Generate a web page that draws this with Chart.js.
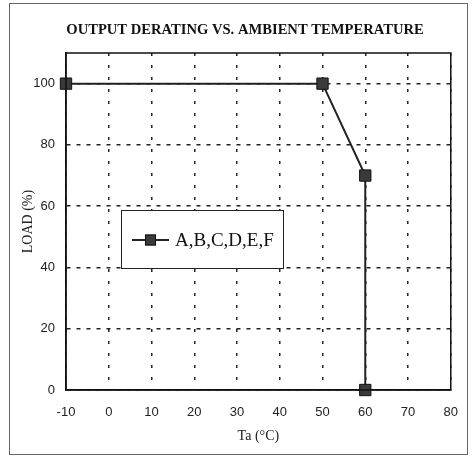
<!DOCTYPE html>
<html>
<head>
<meta charset="utf-8">
<script src="https://cdn.jsdelivr.net/npm/chart.js@4/dist/chart.umd.min.js"></script>
<style>
  html, body { margin: 0; padding: 0; background: #fff; }
  canvas { display: block; }
</style>
</head>
<body>
<canvas id="c" width="473" height="457"></canvas>
<script>
// ---- data ----
const chartTitle = "OUTPUT DERATING VS. AMBIENT TEMPERATURE";
const seriesName = "A,B,C,D,E,F";
const xLabel = "Ta (°C)";
const yLabel = "LOAD (%)";
const temperatures = [-10, 50, 60, 60];
const loads = [100, 100, 70, 0];
const xMin = -10, xMax = 80, xStep = 10;
const yMin = 0, yMax = 110, yStep = 20, yTickMax = 100;

const points = temperatures.map((t, i) => ({ x: t, y: loads[i] }));

const framePlugin = {
  id: 'frame',
  beforeDraw(chart) {
    const ctx = chart.ctx;
    ctx.save();
    ctx.fillStyle = '#fff';
    ctx.fillRect(0, 0, chart.width, chart.height);
    ctx.strokeStyle = '#666';
    ctx.lineWidth = 1;
    ctx.strokeRect(9.5, 3.5, 458, 451);
    // title
    ctx.fillStyle = '#111';
    ctx.font = 'bold 14.6px "Liberation Serif", "Times New Roman", serif';
    ctx.textAlign = 'center';
    ctx.textBaseline = 'middle';
    ctx.fillText(chartTitle, 245, 30);
    ctx.restore();
  },
  afterDatasetsDraw(chart) {
    const ctx = chart.ctx;
    const a = chart.chartArea;
    ctx.save();
    ctx.strokeStyle = '#111';
    ctx.lineWidth = 1.5;
    ctx.strokeRect(a.left, a.top, a.right - a.left, a.bottom - a.top);
    ctx.restore();
  }
};

const legendPlugin = {
  id: 'boxLegend',
  afterDraw(chart) {
    const ctx = chart.ctx;
    ctx.save();
    ctx.fillStyle = '#fff';
    ctx.fillRect(121, 210, 162, 58);
    ctx.strokeStyle = '#222';
    ctx.lineWidth = 1;
    ctx.strokeRect(121.5, 210.5, 162, 58);
    ctx.strokeStyle = '#222';
    ctx.lineWidth = 2;
    ctx.beginPath();
    ctx.moveTo(132, 240);
    ctx.lineTo(169, 240);
    ctx.stroke();
    ctx.fillStyle = '#3a3a3a';
    ctx.fillRect(145, 234.5, 11, 11);
    ctx.strokeStyle = '#111';
    ctx.lineWidth = 1;
    ctx.strokeRect(145.5, 235, 10, 10);
    ctx.fillStyle = '#111';
    ctx.font = '19px "Liberation Serif", "Times New Roman", serif';
    ctx.textAlign = 'left';
    ctx.textBaseline = 'middle';
    ctx.fillText(seriesName, 175, 241);
    ctx.restore();
  }
};

new Chart(document.getElementById('c'), {
  type: 'scatter',
  data: {
    datasets: [{
      label: seriesName,
      data: points,
      showLine: true,
      borderColor: '#222',
      borderWidth: 2,
      pointStyle: 'rect',
      pointRadius: 8,
      pointHoverRadius: 8,
      pointBackgroundColor: '#3a3a3a',
      pointBorderColor: '#111',
      pointBorderWidth: 1,
      clip: false
    }]
  },
  options: {
    responsive: false,
    animation: false,
    events: [],
    layout: { padding: { left: 0, right: 21, top: 53, bottom: 0 } },
    plugins: {
      legend: { display: false },
      title: { display: false },
      tooltip: { enabled: false }
    },
    scales: {
      x: {
        type: 'linear',
        min: xMin, max: xMax,
        ticks: {
          stepSize: xStep,
          padding: 15,
          color: '#222',
          font: { family: '"Liberation Sans", Arial, sans-serif', size: 13 },
          maxRotation: 0
        },
        grid: { color: '#222', lineWidth: 1.5, drawTicks: false },
        border: { display: true, color: '#111', width: 1.5, dash: [3, 9] },
        title: {
          display: true, text: xLabel, color: '#222',
          font: { family: '"Liberation Serif", "Times New Roman", serif', size: 14 },
          padding: { top: 0, bottom: 12 }
        },
        afterFit(scale) { scale.height = 67; }
      },
      y: {
        type: 'linear',
        min: yMin, max: yMax,
        ticks: {
          stepSize: yStep,
          padding: 11,
          color: '#222',
          font: { family: '"Liberation Sans", Arial, sans-serif', size: 13 }
        },
        afterBuildTicks(scale) {
          scale.ticks = scale.ticks.filter(t => t.value <= yTickMax);
        },
        grid: { color: '#222', lineWidth: 1.5, drawTicks: false },
        border: { display: true, color: '#111', width: 1.5, dash: [4, 6] },
        title: {
          display: true, text: yLabel, color: '#222',
          font: { family: '"Liberation Serif", "Times New Roman", serif', size: 14 },
          padding: { top: 20, bottom: 0 }
        },
        afterFit(scale) { scale.width = 66; }
      }
    }
  },
  plugins: [framePlugin, legendPlugin]
});
</script>
</body>
</html>
